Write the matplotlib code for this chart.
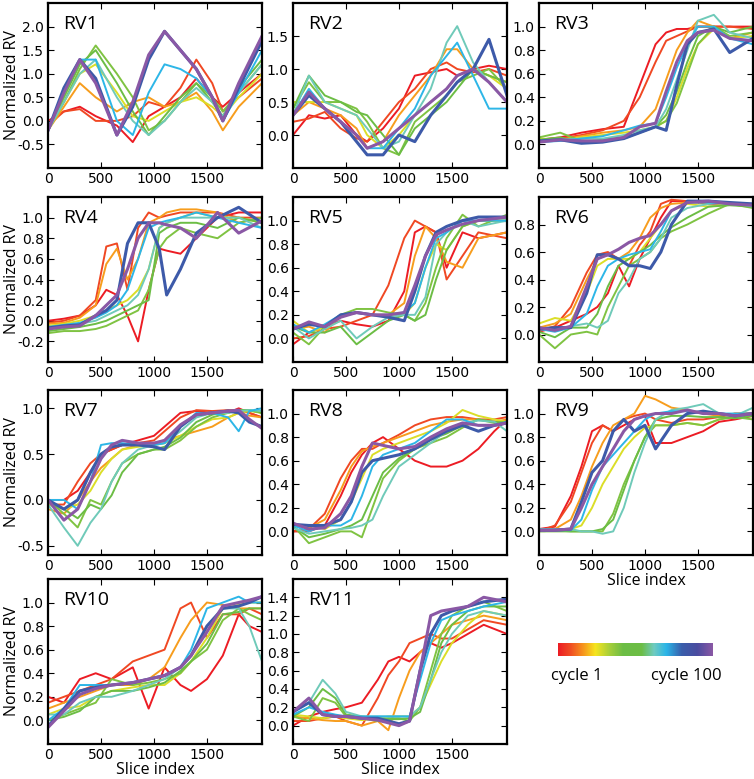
import numpy as np
import matplotlib
matplotlib.use("Agg")
import matplotlib.pyplot as plt
from matplotlib.colors import LinearSegmentedColormap

# cycles represented by the drawn curves (colour = cycle / 100)
cycles = [1, 8, 18, 28, 40, 52, 62, 70, 82, 100]

panel_names = ["RV1", "RV2", "RV3", "RV4", "RV5", "RV6",
               "RV7", "RV8", "RV9", "RV10", "RV11"]

# ---- RV1
rv1_x = [0, 150, 300, 450, 650, 800, 950, 1100, 1250, 1400, 1550, 1650, 1800, 2020]
rv1_y = [
    [0.0, 0.2, 0.3, 0.1, -0.1, -0.45, 0.1, 0.3, 0.5, 0.9, 0.5, 0.3, 0.6, 1.0],
    [-0.1, 0.2, 0.25, 0.0, 0.0, 0.1, 0.4, 0.3, 0.7, 1.3, 0.8, 0.2, 0.5, 0.9],
    [-0.2, 0.3, 0.8, 0.5, 0.2, 0.4, 0.5, 0.3, 0.4, 0.6, 0.2, -0.2, 0.3, 0.8],
    [-0.2, 0.4, 1.0, 1.2, 0.6, 0.1, 0.0, 0.2, 0.4, 0.5, 0.3, 0.1, 0.5, 1.0],
    [-0.2, 0.4, 1.1, 1.6, 1.0, 0.5, -0.2, 0.0, 0.4, 0.8, 0.5, 0.2, 0.6, 1.2],
    [-0.2, 0.5, 1.2, 1.5, 0.8, 0.2, -0.3, 0.1, 0.5, 0.8, 0.4, 0.1, 0.7, 1.3],
    [-0.2, 0.4, 1.0, 1.3, 0.5, 0.0, -0.3, 0.0, 0.4, 0.7, 0.4, 0.1, 0.6, 1.2],
    [-0.2, 0.6, 1.3, 1.3, 0.0, -0.3, 0.6, 1.2, 1.1, 0.9, 0.5, 0.0, 0.6, 1.5],
    [-0.2, 0.7, 1.3, 0.9, -0.3, 0.3, 1.3, 1.9, 1.5, 1.1, 0.5, 0.0, 0.7, 1.7],
    [-0.2, 0.6, 1.3, 0.8, -0.3, 0.4, 1.4, 1.9, 1.5, 1.1, 0.5, 0.0, 0.8, 1.8],
]

# ---- RV2
rv2_x = [0, 150, 300, 450, 600, 700, 850, 1000, 1150, 1300, 1450, 1550, 1700, 1850, 2020]
rv2_y = [
    [0.0, 0.3, 0.25, 0.3, 0.0, -0.1, 0.1, 0.4, 0.9, 0.95, 1.0, 0.9, 1.0, 1.05, 1.0],
    [0.2, 0.25, 0.35, 0.1, -0.05, -0.1, 0.2, 0.5, 0.7, 1.0, 1.1, 1.0, 0.95, 1.0, 0.9],
    [0.3, 0.5, 0.4, 0.3, 0.1, -0.2, -0.1, 0.3, 0.6, 0.9, 1.3, 1.3, 1.0, 0.9, 0.8],
    [0.5, 0.5, 0.5, 0.4, 0.3, 0.0, -0.2, 0.0, 0.3, 0.5, 0.7, 0.9, 1.0, 0.9, 0.7],
    [0.4, 0.8, 0.5, 0.5, 0.4, 0.2, -0.2, -0.3, 0.2, 0.4, 0.6, 0.8, 0.9, 1.0, 0.7],
    [0.4, 0.9, 0.6, 0.5, 0.35, 0.3, 0.0, -0.3, 0.1, 0.3, 0.5, 0.7, 1.0, 0.9, 0.8],
    [0.3, 0.9, 0.5, 0.4, 0.3, 0.1, -0.2, -0.1, 0.3, 0.7, 1.4, 1.65, 1.1, 0.8, 0.5],
    [0.3, 0.7, 0.4, 0.2, 0.0, -0.2, -0.2, 0.1, 0.4, 0.9, 1.2, 1.4, 0.9, 0.4, 0.4],
    [0.3, 0.6, 0.4, 0.2, -0.1, -0.3, -0.3, 0.0, -0.1, 0.3, 0.6, 0.8, 1.0, 1.45, 0.6],
    [0.3, 0.65, 0.4, 0.2, 0.0, -0.2, -0.1, 0.1, 0.3, 0.5, 0.7, 0.9, 1.0, 0.8, 0.5],
]

# ---- RV3
rv3_x = [0, 200, 400, 600, 800, 950, 1100, 1200, 1300, 1400, 1500, 1650, 1800, 2020]
rv3_y = [
    [0.04, 0.06, 0.1, 0.13, 0.15, 0.5, 0.85, 0.95, 0.98, 0.98, 1.0, 1.0, 1.0, 1.0],
    [0.03, 0.05, 0.08, 0.12, 0.2, 0.4, 0.7, 0.88, 0.92, 0.96, 1.0, 1.0, 1.0, 0.98],
    [0.05, 0.04, 0.07, 0.1, 0.12, 0.15, 0.3, 0.55, 0.8, 0.95, 1.05, 1.0, 0.9, 0.95],
    [0.05, 0.04, 0.06, 0.08, 0.1, 0.12, 0.15, 0.2, 0.4, 0.65, 0.85, 0.98, 0.9, 0.92],
    [0.06, 0.1, 0.03, 0.03, 0.05, 0.1, 0.15, 0.2, 0.35, 0.6, 0.85, 1.0, 0.92, 0.95],
    [0.04, 0.06, 0.02, 0.04, 0.06, 0.1, 0.15, 0.25, 0.45, 0.7, 0.92, 1.0, 0.95, 1.0],
    [0.03, 0.04, 0.05, 0.05, 0.08, 0.12, 0.15, 0.3, 0.55, 0.8, 1.05, 1.1, 0.95, 0.9],
    [0.02, 0.03, 0.05, 0.07, 0.12, 0.16, 0.18, 0.4, 0.65, 0.85, 1.0, 1.0, 0.9, 0.85],
    [0.03, 0.04, 0.01, 0.02, 0.05, 0.1, 0.15, 0.12, 0.5, 0.85, 0.95, 0.98, 0.78, 0.9],
    [0.02, 0.04, 0.03, 0.03, 0.06, 0.15, 0.18, 0.45, 0.7, 0.88, 0.95, 0.97, 0.9, 0.88],
]

# ---- RV4
rv4_x = [0, 150, 300, 450, 550, 650, 750, 850, 950, 1050, 1120, 1250, 1400, 1600, 1800, 2020]
rv4_y = [
    [0.0, 0.02, 0.05, 0.15, 0.3, 0.25, 0.05, -0.2, 0.3, 0.7, 0.68, 0.65, 0.8, 1.0, 1.05, 1.05],
    [-0.02, 0.0, 0.05, 0.2, 0.72, 0.75, 0.3, 0.9, 1.05, 1.0, 1.02, 1.05, 1.05, 1.05, 1.0, 1.0],
    [-0.03, -0.02, 0.03, 0.15, 0.55, 0.7, 0.4, 0.6, 0.95, 1.0, 1.05, 1.08, 1.08, 1.05, 0.95, 1.0],
    [-0.05, -0.03, 0.0, 0.05, 0.1, 0.15, 0.2, 0.3, 0.5, 0.9, 0.95, 1.0, 1.05, 1.0, 1.0, 0.95],
    [-0.12, -0.1, -0.1, -0.08, -0.05, 0.0, 0.05, 0.1, 0.3, 0.7, 0.8, 0.9, 0.85, 0.8, 0.95, 1.0],
    [-0.1, -0.08, -0.06, -0.03, 0.0, 0.05, 0.1, 0.15, 0.2, 0.85, 0.9, 0.95, 0.95, 0.9, 1.0, 0.95],
    [-0.08, -0.05, -0.03, 0.0, 0.05, 0.1, 0.15, 0.25, 0.5, 0.9, 0.95, 1.0, 1.0, 1.0, 1.0, 0.9],
    [-0.06, -0.04, -0.02, 0.03, 0.08, 0.15, 0.3, 0.6, 0.9, 0.95, 0.97, 1.0, 1.05, 1.0, 0.95, 0.9],
    [-0.07, -0.05, -0.04, 0.05, 0.1, 0.2, 0.75, 0.95, 0.95, 0.7, 0.25, 0.5, 0.85, 1.0, 1.1, 0.95],
    [-0.08, -0.06, -0.05, 0.05, 0.15, 0.25, 0.5, 0.8, 0.95, 0.95, 0.93, 0.9, 0.8, 1.05, 0.85, 0.97],
]

# ---- RV5
rv5_x = [0, 150, 300, 450, 600, 750, 900, 1050, 1150, 1250, 1350, 1450, 1600, 1750, 2020]
rv5_y = [
    [-0.05, 0.05, 0.1, 0.15, 0.12, 0.1, 0.15, 0.4, 0.9, 0.95, 0.9, 0.6, 0.9, 0.85, 0.9],
    [0.0, 0.02, 0.08, 0.1, 0.15, 0.2, 0.45, 0.85, 1.0, 0.95, 0.9, 0.5, 0.7, 0.9, 0.85],
    [0.08, 0.1, 0.05, 0.2, 0.22, 0.2, 0.2, 0.3, 0.7, 0.95, 0.85, 0.65, 0.6, 0.85, 0.9],
    [0.15, 0.05, 0.1, 0.2, 0.22, 0.2, 0.18, 0.2, 0.3, 0.6, 0.8, 0.75, 0.95, 1.0, 1.0],
    [0.05, -0.05, 0.1, 0.2, 0.25, 0.25, 0.22, 0.2, 0.15, 0.3, 0.6, 0.85, 1.05, 0.95, 1.05],
    [0.1, 0.05, 0.05, 0.1, -0.05, 0.05, 0.15, 0.2, 0.15, 0.2, 0.5, 0.75, 0.95, 1.0, 1.0],
    [0.1, 0.0, 0.08, 0.15, 0.0, 0.1, 0.18, 0.2, 0.2, 0.35, 0.8, 0.9, 1.0, 0.95, 1.0],
    [0.12, 0.05, 0.12, 0.2, 0.22, 0.2, 0.2, 0.22, 0.3, 0.6, 0.85, 0.9, 1.0, 1.0, 1.0],
    [0.08, 0.12, 0.1, 0.2, 0.22, 0.2, 0.18, 0.15, 0.4, 0.7, 0.9, 0.95, 1.0, 1.03, 1.03],
    [0.08, 0.14, 0.1, 0.18, 0.22, 0.2, 0.2, 0.22, 0.45, 0.7, 0.88, 0.92, 0.97, 1.0, 1.03],
]

# ---- RV6
rv6_x = [0, 150, 300, 450, 550, 650, 750, 850, 950, 1050, 1150, 1250, 1400, 1600, 1800, 2020]
rv6_y = [
    [0.02, 0.05, 0.1, 0.15, 0.2, 0.3, 0.5, 0.35, 0.55, 0.7, 0.85, 0.97, 0.97, 0.95, 0.95, 0.93],
    [0.03, 0.06, 0.2, 0.45, 0.58, 0.6, 0.55, 0.5, 0.65, 0.75, 0.95, 0.98, 0.97, 0.96, 0.95, 0.95],
    [0.05, 0.08, 0.15, 0.4, 0.55, 0.58, 0.55, 0.6, 0.7, 0.85, 0.92, 0.95, 0.96, 0.96, 0.95, 0.93],
    [0.08, 0.12, 0.1, 0.3, 0.5, 0.55, 0.55, 0.55, 0.6, 0.7, 0.8, 0.9, 0.95, 0.93, 0.95, 0.93],
    [0.0, -0.1, 0.0, 0.02, 0.0, 0.2, 0.35, 0.5, 0.55, 0.6, 0.7, 0.75, 0.8, 0.88, 0.95, 0.92],
    [0.02, -0.02, 0.05, 0.05, 0.15, 0.35, 0.5, 0.55, 0.6, 0.65, 0.72, 0.78, 0.85, 0.93, 0.94, 0.93],
    [0.05, 0.03, 0.06, 0.08, 0.05, 0.1, 0.3, 0.4, 0.55, 0.6, 0.7, 0.85, 0.92, 0.95, 0.96, 0.93],
    [0.04, 0.02, 0.05, 0.15, 0.35, 0.5, 0.55, 0.58, 0.6, 0.62, 0.75, 0.9, 0.96, 0.96, 0.95, 0.94],
    [0.04, 0.05, 0.05, 0.3, 0.58, 0.58, 0.55, 0.5, 0.5, 0.48, 0.6, 0.8, 0.97, 0.97, 0.96, 0.95],
    [0.05, 0.03, 0.06, 0.35, 0.55, 0.58, 0.62, 0.67, 0.7, 0.72, 0.8, 0.9, 0.96, 0.97, 0.95, 0.94],
]

# ---- RV7
rv7_x = [0, 150, 280, 400, 500, 600, 700, 850, 1000, 1100, 1250, 1400, 1550, 1700, 1800, 1900, 2020]
rv7_y = [
    [0.0, 0.0, 0.1, 0.3, 0.5, 0.55, 0.6, 0.65, 0.7, 0.8, 0.95, 0.97, 0.95, 0.95, 1.0, 0.95, 0.9],
    [-0.05, -0.05, 0.2, 0.4, 0.5, 0.55, 0.6, 0.62, 0.65, 0.75, 0.9, 0.98, 0.97, 0.98, 0.98, 0.95, 0.9],
    [-0.1, -0.15, 0.0, 0.2, 0.35, 0.45, 0.55, 0.6, 0.62, 0.65, 0.7, 0.75, 0.8, 0.9, 0.95, 0.92, 0.9],
    [-0.05, -0.1, -0.05, 0.1, 0.3, 0.45, 0.55, 0.58, 0.6, 0.62, 0.7, 0.8, 0.88, 0.9, 0.95, 0.97, 0.95],
    [0.0, -0.15, -0.3, 0.0, -0.05, 0.2, 0.4, 0.5, 0.55, 0.55, 0.65, 0.8, 0.9, 0.95, 0.98, 0.98, 0.95],
    [0.0, -0.1, -0.2, -0.05, -0.1, 0.05, 0.3, 0.5, 0.55, 0.58, 0.68, 0.85, 0.93, 0.97, 0.98, 0.98, 0.95],
    [-0.05, -0.3, -0.5, -0.25, -0.1, 0.2, 0.4, 0.55, 0.6, 0.62, 0.75, 0.9, 0.95, 0.95, 0.97, 0.98, 0.97],
    [0.0, 0.0, -0.1, 0.2, 0.6, 0.62, 0.62, 0.6, 0.6, 0.62, 0.8, 0.95, 0.95, 0.9, 0.75, 0.97, 1.0],
    [0.0, -0.1, 0.0, 0.3, 0.5, 0.58, 0.6, 0.6, 0.58, 0.55, 0.8, 0.93, 0.95, 0.97, 0.95, 0.85, 0.8],
    [0.0, -0.22, -0.1, 0.2, 0.45, 0.6, 0.65, 0.62, 0.62, 0.65, 0.82, 0.93, 0.95, 0.97, 0.98, 0.88, 0.78],
]

# ---- RV8
rv8_x = [0, 150, 300, 450, 550, 650, 750, 850, 1000, 1150, 1300, 1450, 1600, 1750, 1900, 2020]
rv8_y = [
    [0.0, 0.0, 0.05, 0.3, 0.5, 0.65, 0.75, 0.8, 0.7, 0.6, 0.55, 0.55, 0.6, 0.7, 0.85, 0.95],
    [0.0, 0.02, 0.15, 0.45, 0.6, 0.7, 0.7, 0.75, 0.82, 0.9, 0.95, 0.97, 0.97, 0.95, 0.95, 0.97],
    [0.05, 0.03, 0.1, 0.35, 0.55, 0.68, 0.72, 0.75, 0.8, 0.85, 0.9, 0.93, 0.95, 0.95, 0.93, 0.95],
    [0.05, 0.05, 0.02, 0.1, 0.25, 0.45, 0.65, 0.7, 0.75, 0.8, 0.85, 0.92, 1.03, 0.98, 0.95, 0.93],
    [0.05, -0.1, -0.05, 0.0, 0.0, -0.05, 0.2, 0.45, 0.6, 0.7, 0.75, 0.8, 0.88, 0.95, 0.92, 0.93],
    [0.04, -0.05, -0.02, 0.02, 0.05, 0.1, 0.3, 0.5, 0.62, 0.7, 0.78, 0.83, 0.9, 0.95, 0.93, 0.92],
    [0.03, -0.02, 0.0, 0.02, 0.03, 0.05, 0.1, 0.3, 0.55, 0.65, 0.75, 0.85, 0.92, 0.94, 0.93, 0.85],
    [0.05, 0.0, 0.05, 0.05, 0.1, 0.3, 0.55, 0.65, 0.7, 0.75, 0.85, 0.95, 0.95, 0.9, 0.9, 0.93],
    [0.06, 0.05, 0.05, 0.1, 0.25, 0.5, 0.6, 0.62, 0.65, 0.7, 0.78, 0.85, 0.9, 0.85, 0.9, 0.92],
    [0.07, 0.02, 0.03, 0.15, 0.3, 0.55, 0.75, 0.73, 0.7, 0.72, 0.8, 0.87, 0.92, 0.9, 0.9, 0.92],
]

# ---- RV9
rv9_x = [0, 150, 300, 400, 500, 600, 700, 800, 900, 1000, 1100, 1250, 1400, 1550, 1700, 1850, 2020]
rv9_y = [
    [0.02, 0.04, 0.3, 0.55, 0.85, 0.9, 0.85, 0.9, 0.95, 0.98, 0.75, 0.75, 0.8, 0.85, 0.93, 0.95, 0.98],
    [0.0, 0.05, 0.25, 0.5, 0.75, 0.9, 0.85, 0.95, 0.98, 1.0, 0.95, 0.92, 0.95, 0.95, 0.97, 1.0, 1.0],
    [0.02, 0.02, 0.1, 0.3, 0.55, 0.75, 0.9, 0.95, 1.0, 1.15, 1.12, 1.05, 1.03, 1.0, 0.98, 1.0, 1.0],
    [0.02, 0.02, 0.02, 0.05, 0.2, 0.4, 0.55, 0.7, 0.8, 0.88, 0.9, 0.9, 0.92, 0.9, 0.95, 0.98, 1.0],
    [0.0, 0.0, 0.0, 0.0, 0.0, 0.0, 0.15, 0.4, 0.6, 0.8, 0.9, 0.9, 0.92, 0.9, 0.95, 0.97, 0.95],
    [0.01, 0.01, 0.0, 0.0, 0.0, 0.02, 0.1, 0.35, 0.6, 0.8, 0.95, 0.98, 0.98, 0.97, 0.97, 0.96, 0.98],
    [0.02, 0.02, 0.02, 0.0, 0.0, -0.02, 0.0, 0.2, 0.5, 0.75, 0.95, 1.03, 1.05, 1.08, 1.0, 0.98, 1.05],
    [0.01, 0.01, 0.01, 0.1, 0.35, 0.55, 0.65, 0.75, 0.85, 0.95, 1.0, 1.02, 1.02, 1.0, 1.0, 1.0, 1.0],
    [0.01, 0.01, 0.02, 0.25, 0.5, 0.6, 0.85, 0.95, 0.85, 0.9, 0.7, 0.9, 1.0, 1.02, 1.0, 0.98, 1.0],
    [0.01, 0.01, 0.02, 0.2, 0.4, 0.55, 0.7, 0.85, 0.95, 0.98, 1.0, 1.0, 1.03, 1.0, 1.0, 0.98, 1.0],
]

# ---- RV10
rv10_x = [0, 150, 300, 450, 600, 800, 950, 1100, 1250, 1350, 1500, 1650, 1800, 1900, 2020]
rv10_y = [
    [0.2, 0.15, 0.35, 0.4, 0.35, 0.45, 0.1, 0.45, 0.3, 0.25, 0.35, 0.55, 0.9, 0.8, 0.75],
    [0.15, 0.2, 0.25, 0.3, 0.35, 0.5, 0.55, 0.6, 0.95, 1.0, 0.7, 0.9, 0.9, 0.95, 0.9],
    [0.1, 0.15, 0.2, 0.25, 0.3, 0.3, 0.35, 0.45, 0.7, 0.85, 1.0, 0.98, 0.95, 0.95, 0.95],
    [0.05, 0.1, 0.12, 0.2, 0.25, 0.28, 0.3, 0.3, 0.4, 0.5, 0.7, 0.95, 0.98, 1.0, 1.0],
    [0.0, 0.05, 0.1, 0.15, 0.35, 0.3, 0.32, 0.35, 0.4, 0.5, 0.6, 0.85, 0.95, 0.9, 0.85],
    [0.0, 0.03, 0.08, 0.2, 0.25, 0.25, 0.28, 0.32, 0.42, 0.5, 0.65, 0.9, 0.92, 0.95, 0.95],
    [0.05, 0.05, 0.15, 0.2, 0.2, 0.25, 0.3, 0.35, 0.45, 0.55, 0.8, 0.95, 0.95, 0.8, 0.5],
    [0.0, 0.1, 0.3, 0.3, 0.3, 0.32, 0.35, 0.38, 0.45, 0.6, 0.95, 1.0, 1.05, 1.0, 1.0],
    [-0.05, 0.1, 0.25, 0.28, 0.3, 0.32, 0.35, 0.38, 0.45, 0.55, 0.8, 0.95, 0.97, 1.0, 1.05],
    [-0.06, 0.08, 0.22, 0.27, 0.3, 0.32, 0.35, 0.38, 0.45, 0.55, 0.75, 0.97, 1.0, 1.02, 1.05],
]

# ---- RV11
rv11_x = [0, 150, 280, 400, 500, 650, 800, 900, 1000, 1100, 1200, 1300, 1400, 1500, 1650, 1800, 2020]
rv11_y = [
    [0.0, 0.1, 0.15, 0.18, 0.2, 0.25, 0.5, 0.7, 0.75, 0.7, 0.8, 0.9, 0.85, 0.9, 1.0, 1.1, 1.0],
    [0.05, 0.05, 0.08, 0.1, 0.05, 0.0, 0.3, 0.55, 0.7, 0.9, 0.95, 1.0, 0.95, 0.95, 1.05, 1.15, 1.1],
    [0.1, 0.08, 0.06, 0.05, 0.05, 0.0, 0.05, -0.05, 0.3, 0.6, 0.8, 0.9, 1.0, 1.1, 1.15, 1.2, 1.15],
    [0.12, 0.1, 0.08, 0.1, 0.08, 0.06, 0.08, 0.1, 0.1, 0.1, 0.2, 0.45, 0.7, 0.9, 1.1, 1.25, 1.2],
    [0.1, 0.05, 0.3, 0.25, 0.1, 0.08, 0.05, 0.08, 0.08, 0.05, 0.2, 0.6, 1.0, 1.2, 1.3, 1.35, 1.25],
    [0.1, 0.2, 0.4, 0.3, 0.12, 0.1, 0.08, 0.07, 0.07, 0.08, 0.15, 0.5, 0.9, 1.1, 1.25, 1.3, 1.3],
    [0.15, 0.25, 0.5, 0.35, 0.15, 0.1, 0.1, 0.1, 0.1, 0.1, 0.2, 0.5, 0.8, 1.0, 1.2, 1.25, 1.2],
    [0.12, 0.2, 0.15, 0.12, 0.1, 0.1, 0.1, 0.1, 0.1, 0.1, 0.5, 0.9, 1.15, 1.2, 1.25, 1.3, 1.35],
    [0.15, 0.25, 0.12, 0.1, 0.1, 0.08, 0.08, 0.05, 0.02, 0.05, 0.6, 1.0, 1.2, 1.25, 1.3, 1.35, 1.38],
    [0.15, 0.3, 0.12, 0.1, 0.1, 0.08, 0.06, 0.03, 0.0, 0.05, 0.6, 1.2, 1.25, 1.27, 1.3, 1.4, 1.35],
]

panel_x = [rv1_x, rv2_x, rv3_x, rv4_x, rv5_x, rv6_x, rv7_x, rv8_x, rv9_x, rv10_x, rv11_x]
panel_y = [rv1_y, rv2_y, rv3_y, rv4_y, rv5_y, rv6_y, rv7_y, rv8_y, rv9_y, rv10_y, rv11_y]

ylims = [(-1.0, 2.5), (-0.5, 2.0), (-0.2, 1.2), (-0.4, 1.2), (-0.2, 1.2), (-0.2, 1.0),
         (-0.6, 1.2), (-0.2, 1.2), (-0.2, 1.2), (-0.2, 1.2), (-0.2, 1.6)]
yticks = [
    [-0.5, 0.0, 0.5, 1.0, 1.5, 2.0],
    [0.0, 0.5, 1.0, 1.5],
    [0.0, 0.2, 0.4, 0.6, 0.8, 1.0],
    [-0.2, 0.0, 0.2, 0.4, 0.6, 0.8, 1.0],
    [0.0, 0.2, 0.4, 0.6, 0.8, 1.0],
    [0.0, 0.2, 0.4, 0.6, 0.8],
    [-0.5, 0.0, 0.5, 1.0],
    [0.0, 0.2, 0.4, 0.6, 0.8, 1.0],
    [0.0, 0.2, 0.4, 0.6, 0.8, 1.0],
    [0.0, 0.2, 0.4, 0.6, 0.8, 1.0],
    [0.0, 0.2, 0.4, 0.6, 0.8, 1.0, 1.2, 1.4],
]
xticks = [0, 500, 1000, 1500]

cmap = LinearSegmentedColormap.from_list("cycles", [
    (0.00, "#ec1c24"), (0.08, "#f04e23"), (0.16, "#f7941d"), (0.24, "#f6e51f"),
    (0.33, "#a8cf3a"), (0.42, "#6cbd45"), (0.54, "#6cbd45"), (0.62, "#6fcbc0"),
    (0.70, "#2bb5e8"), (0.80, "#3a5eab"), (0.90, "#4a4ca0"), (1.00, "#8a58a5"),
])

label_font = "Open Sans"

fig = plt.figure(figsize=(7.54, 7.79), dpi=100)

lefts = [0.0637, 0.3886, 0.7149]
bottoms = [0.7843, 0.5353, 0.2876, 0.0450]
w, h = 0.2838, 0.2118

for k in range(11):
    r, c = divmod(k, 3)
    ax = fig.add_axes([lefts[c], bottoms[r], w, h])
    for cyc, yv in zip(cycles, panel_y[k]):
        lw = 2.2 if cyc >= 80 else 1.4
        ax.plot(panel_x[k], yv, color=cmap((cyc - 1) / 99.0), lw=lw)
    ax.set_xlim(0, 2020)
    ax.set_ylim(*ylims[k])
    ax.set_xticks(xticks)
    ax.set_yticks(yticks[k])
    ax.yaxis.set_major_formatter(matplotlib.ticker.FormatStrFormatter("%.1f"))
    ax.tick_params(direction="in", top=True, right=True, length=4, width=0.8,
                   labelsize=10, pad=3)
    for s in ax.spines.values():
        s.set_linewidth(1.6)
    ax.text(0.07, 0.93, panel_names[k], transform=ax.transAxes, va="top", ha="left",
            fontsize=14, family=label_font)
    if c == 0:
        ax.set_ylabel("Normalized RV", fontsize=11.5, family=label_font,
                      va="baseline")
        ax.yaxis.set_label_coords(-0.148, 0.5)
    if k >= 8:
        ax.set_xlabel("Slice index", fontsize=11.5, family=label_font, labelpad=0)

# colour bar legend
cax = fig.add_axes([558 / 754, 1 - 656 / 779, 155 / 754, 13 / 779])
grad = np.linspace(0, 1, 256).reshape(1, -1)
cax.imshow(grad, aspect="auto", cmap=cmap)
cax.set_axis_off()
fig.text(577 / 754, 1 - 676 / 779, "cycle 1", ha="center", va="center",
         fontsize=12, family=label_font)
fig.text(686 / 754, 1 - 676 / 779, "cycle 100", ha="center", va="center",
         fontsize=12, family=label_font)

fig.savefig("out.png", dpi=100)
